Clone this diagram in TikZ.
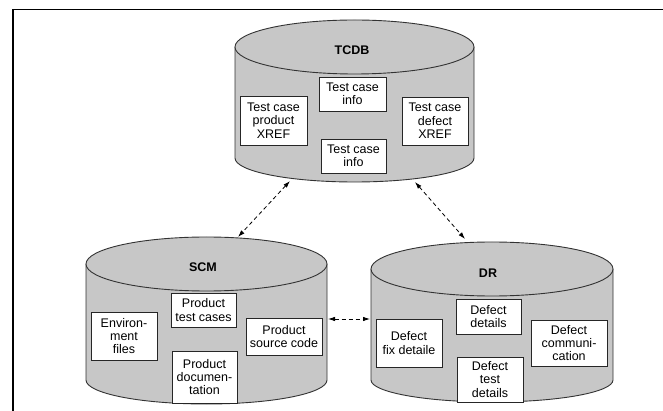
\documentclass[tikz,border=0pt]{standalone}
\usepackage{fontspec}
\setmainfont{Liberation Sans}
\usetikzlibrary{arrows.meta}

\newcommand{\boxfont}{\fontsize{12.5}{13.3}\selectfont}
% drum: cx, top y, bottom y, rx, ry top, ry bottom
\newcommand{\dbdrum}[6]{%
    \filldraw[drum] (#1-#4,#2) -- (#1-#4,#3) arc (180:0:#4 and #6) -- (#1+#4,#2);
    \filldraw[drum] (#1,#2) ellipse (#4 and #5);
}

\begin{document}
\begin{tikzpicture}[x=1pt, y=-1pt,
    drum/.style={fill=black!22, draw=black!80, line width=0.9pt},
    box/.style={draw=black!85, fill=white, line width=0.9pt, align=center, inner sep=1pt, font=\boxfont},
    title/.style={font=\boxfont\bfseries},
    link/.style={{Latex[length=7pt,width=4.5pt]}-{Latex[length=7pt,width=4.5pt]}, dash pattern=on 4pt off 3pt, line width=0.8pt}]

    \useasboundingbox (0,0) rectangle (663,411);
    % frame
    \draw[line width=1.6pt] (13,411) -- (13,9.5) -- (663,9.5);

    % TCDB
    \dbdrum{354.5}{47}{158}{119.5}{27}{24}
    \node[title] (tcdb) at (352,50) {TCDB};
    \node[box, minimum width=67pt, minimum height=34pt] (tcinfoa) at (352.5,94) {Test case\\info};
    \node[box, minimum width=67pt, minimum height=49pt] (tcprod) at (273.5,120.5) {Test case\\product\\XREF};
    \node[box, minimum width=66pt, minimum height=48pt] (tcdef) at (435,121) {Test case\\defect\\XREF};
    \node[box, minimum width=65pt, minimum height=34pt] (tcinfob) at (353.5,156) {Test case\\info};

    % SCM
    \dbdrum{206.5}{264}{380}{120.5}{27}{24}
    \node[title] (scm) at (203,267) {SCM};
    \node[box, minimum width=65pt, minimum height=34pt] (ptest) at (203.5,310) {Product\\test cases};
    \node[box, minimum width=66pt, minimum height=48pt] (envf) at (124,336) {Environ-\\ment\\files};
    \node[box, minimum width=76pt, minimum height=37pt] (psrc) at (284,336.5) {Product\\source code};
    \node[box, minimum width=65pt, minimum height=52pt] (pdoc) at (204.5,377) {Product\\documen-\\tation};

    % DR
    \dbdrum{492}{269}{380}{121}{27}{22}
    \node[title] (dr) at (488,273) {DR};
    \node[box, minimum width=65pt, minimum height=35pt] (ddet) at (488.5,316.5) {Defect\\details};
    \node[box, minimum width=66pt, minimum height=48pt] (dfix) at (409,343) {Defect\\fix detaile};
    \node[box, minimum width=76pt, minimum height=46pt] (dcomm) at (569,343) {Defect\\communi-\\cation};
    \node[box, minimum width=66pt, minimum height=45pt] (dtest) at (490,379.5) {Defect\\test\\details};

    % links between the databases
    \coordinate (tcdb-sw) at (290,181);
    \coordinate (tcdb-se) at (415,182);
    \coordinate (scm-n) at (238,237);
    \coordinate (scm-e) at (328,319);
    \coordinate (dr-n) at (465,239);
    \coordinate (dr-w) at (370,319);
    \draw[link] (tcdb-sw) -- (scm-n);
    \draw[link] (tcdb-se) -- (dr-n);
    \draw[link] (scm-e) -- (dr-w);
\end{tikzpicture}
\end{document}
